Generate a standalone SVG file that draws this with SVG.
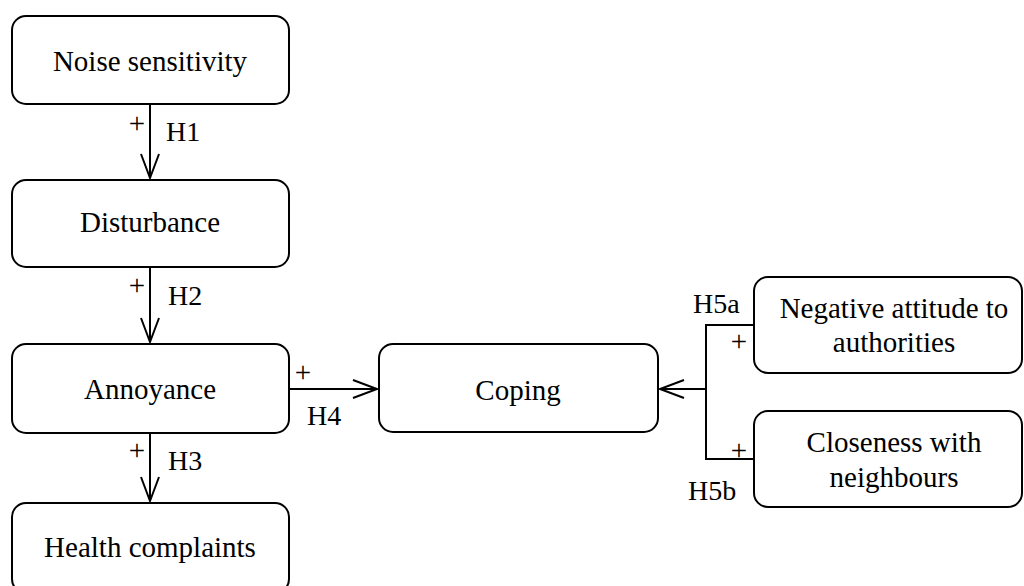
<svg xmlns="http://www.w3.org/2000/svg" width="1024" height="586" viewBox="0 0 1024 586">
<style>
.box{fill:#fff;stroke:#000;stroke-width:2}
.t{font-family:"Liberation Serif","Times New Roman",serif;font-size:29px;fill:#000;text-anchor:middle}
.l{font-family:"Liberation Serif","Times New Roman",serif;font-size:28px;fill:#000}
.p{font-family:"Liberation Serif","Times New Roman",serif;font-size:29px;fill:#000;text-anchor:middle}
.c{fill:none;stroke:#000;stroke-width:2}
</style>
<defs>
<marker id="arr" markerUnits="userSpaceOnUse" markerWidth="30" markerHeight="24" viewBox="-26 -12 30 24" refX="0" refY="0" orient="auto">
<path d="M-24,-9 L0,0 L-24,9" fill="none" stroke="#000" stroke-width="2"/>
</marker>
</defs>
<rect width="1024" height="586" fill="#fff"/>
<g id="connectors">
<path class="c" d="M150,104 V178" marker-end="url(#arr)"/>
<path class="c" d="M150,267 V342" marker-end="url(#arr)"/>
<path class="c" d="M150,433 V501" marker-end="url(#arr)"/>
<path class="c" d="M289,389 H377" marker-end="url(#arr)"/>
<path class="c" d="M754,325 H706 V459 H754"/>
<path class="c" d="M706,389 H660" marker-end="url(#arr)"/>
<text class="p" x="137" y="133">+</text>
<text class="l" x="166" y="141">H1</text>
<text class="p" x="137" y="295">+</text>
<text class="l" x="168" y="305">H2</text>
<text class="p" x="137" y="460">+</text>
<text class="l" x="168" y="470">H3</text>
<text class="p" x="303" y="382">+</text>
<text class="l" x="307" y="425">H4</text>
<text class="l" x="693" y="313">H5a</text>
<text class="p" x="739" y="351">+</text>
<text class="p" x="739" y="460">+</text>
<text class="l" x="688" y="500">H5b</text>
</g>
<g id="noise">
<rect class="box" x="12" y="16" width="277" height="88" rx="14"/>
<text class="t" x="150" y="71">Noise sensitivity</text>
</g>
<g id="disturbance">
<rect class="box" x="12" y="180" width="277" height="87" rx="14"/>
<text class="t" x="150" y="232">Disturbance</text>
</g>
<g id="annoyance">
<rect class="box" x="12" y="344" width="277" height="89" rx="14"/>
<text class="t" x="150" y="399">Annoyance</text>
</g>
<g id="health">
<rect class="box" x="12" y="503" width="277" height="90" rx="14"/>
<text class="t" x="150" y="557">Health complaints</text>
</g>
<g id="coping">
<rect class="box" x="379" y="344" width="279" height="88" rx="14"/>
<text class="t" x="518" y="400">Coping</text>
</g>
<g id="negative">
<rect class="box" x="754" y="277" width="268" height="96" rx="14"/>
<text class="t" x="894" y="318">Negative attitude to</text>
<text class="t" x="894" y="352">authorities</text>
</g>
<g id="closeness">
<rect class="box" x="754" y="411" width="268" height="96" rx="14"/>
<text class="t" x="894" y="452">Closeness with</text>
<text class="t" x="894" y="487">neighbours</text>
</g>
</svg>
